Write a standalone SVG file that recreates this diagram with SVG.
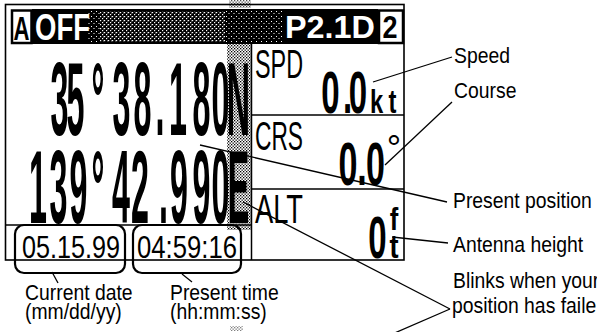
<svg xmlns="http://www.w3.org/2000/svg" width="597" height="332" viewBox="0 0 597 332">
<defs>
<style>
.frame{fill:none;stroke:#000;stroke-width:1.6}
.sep{fill:none;stroke:#000;stroke-width:1.5}
.lbl{font-family:"Liberation Sans",Arial,sans-serif;font-size:22px;fill:#000}
.big{font-family:"Liberation Sans",Arial,sans-serif;font-weight:bold;font-size:104px;fill:#000;text-anchor:middle}
.val{font-family:"Liberation Sans",Arial,sans-serif;font-weight:bold;fill:#000;text-anchor:middle}
.reg{font-family:"Liberation Sans",Arial,sans-serif;fill:#000}
.hdr{font-family:"Liberation Sans",Arial,sans-serif;font-weight:bold}
.lead{fill:none;stroke:#000;stroke-width:1.3}
.call{fill:none;stroke:#000;stroke-width:2.2}
.box{fill:#fff;stroke:#000;stroke-width:2.5}
</style>
<pattern id="stip" width="3" height="3" patternUnits="userSpaceOnUse">
<rect x="0" y="0" width="1.3" height="1.3" fill="#000"/>
<rect x="1.5" y="1.5" width="1.3" height="1.3" fill="#000"/>
</pattern>
<pattern id="dith" width="4" height="4" patternUnits="userSpaceOnUse">
<rect width="4" height="4" fill="#000"/>
<rect x="0" y="0" width="1.2" height="1.2" fill="#fff"/>
<rect x="2" y="2" width="1.2" height="1.2" fill="#fff"/>
<rect x="3" y="0.5" width="0.8" height="0.8" fill="#fff"/>
</pattern>
<pattern id="dith2" width="5" height="5" patternUnits="userSpaceOnUse">
<rect width="5" height="5" fill="#000"/>
<rect x="1" y="1" width="1" height="1" fill="#fff"/>
<rect x="3.5" y="3" width="1" height="1" fill="#fff"/>
</pattern>
</defs>

<g id="display">
<rect class="frame" x="5.5" y="4.5" width="398.5" height="255.5"/>
<rect x="227" y="44" width="24" height="186" fill="url(#stip)"/>
<rect x="229" y="0" width="22" height="8" fill="url(#stip)" opacity="0.7"/>
<rect x="230" y="326" width="13" height="5" fill="url(#stip)" opacity="0.5"/>
<line class="sep" x1="251.5" y1="44" x2="251.5" y2="260"/>
<line class="sep" x1="251.5" y1="115" x2="404" y2="115"/>
<line class="sep" x1="251.5" y1="189" x2="404" y2="189"/>
<line class="sep" x1="5" y1="225" x2="251.5" y2="225"/>
</g>

<g id="header">
<rect x="32" y="9" width="346" height="35" fill="#000"/>
<rect x="88" y="10" width="195" height="33" fill="url(#dith2)"/>
<rect x="100" y="11" width="125" height="31" fill="url(#dith)"/>
<rect class="box" x="12" y="10.5" width="19.5" height="32.5"/>
<text class="hdr" x="13.5" y="40" font-size="34" textLength="16" lengthAdjust="spacingAndGlyphs" fill="#000">A</text>
<text class="hdr" x="35" y="40" font-size="37" textLength="55" lengthAdjust="spacingAndGlyphs" fill="#fff">OFF</text>
<text class="hdr" x="285" y="38" font-size="32" textLength="90" lengthAdjust="spacingAndGlyphs" fill="#fff">P2.1D</text>
<rect class="box" x="379" y="10.5" width="24" height="32.5"/>
<text class="hdr" x="382.5" y="38" font-size="32" textLength="15" lengthAdjust="spacingAndGlyphs" fill="#000">2</text>
</g>

<g id="latitude">
<text class="big" transform="scale(0.31,1)" x="191.9 243.5 316.1 391.9 459.7 516.1 574.2 650 711.3 769.4" y="135">35°38.180N</text>
</g>
<g id="longitude">
<text class="big" transform="scale(0.31,1)" x="122.6 188.7 253.2 316.1 390.3 451.6 527.4 577.4 650 711.3 769.4" y="223">139°42.990E</text>
</g>

<g id="speed">
<text class="reg" x="255" y="78" font-size="40" textLength="48" lengthAdjust="spacingAndGlyphs">SPD</text>
<text class="val" transform="scale(0.55,1)" x="600.9 631.8 650.9" y="113" font-size="60">0.0</text>
<text class="val" transform="scale(0.7,1)" x="537.9 560.7" y="113" font-size="34">kt</text>
</g>

<g id="course">
<text class="reg" x="255" y="150" font-size="40" textLength="48" lengthAdjust="spacingAndGlyphs">CRS</text>
<text class="val" transform="scale(0.55,1)" x="632.7 658.2 682.7" y="185" font-size="62">0.0</text>
<text class="reg" x="394" y="161" font-size="36" text-anchor="middle">°</text>
</g>

<g id="altitude">
<text class="reg" x="255" y="223" font-size="40" textLength="48" lengthAdjust="spacingAndGlyphs">ALT</text>
<text class="val" transform="scale(0.55,1)" x="686.4" y="258" font-size="60">0</text>
<text class="val" transform="scale(0.8,1)" x="492.5" y="230" font-size="32">f</text>
<text class="val" transform="scale(0.8,1)" x="492.5" y="258" font-size="34">t</text>
</g>

<g id="date">
<text class="reg" x="22" y="258" font-size="32" textLength="98" lengthAdjust="spacingAndGlyphs">05.15.99</text>
<rect class="call" x="15" y="225" width="110" height="48" rx="9"/>
</g>
<g id="time">
<text class="reg" x="137" y="258" font-size="32" textLength="100" lengthAdjust="spacingAndGlyphs">04:59:16</text>
<rect class="call" x="133" y="225" width="108" height="48" rx="9"/>
</g>

<g id="connectors">
<path class="lead" d="M373 82 L452 57"/>
<path class="lead" d="M385 165 L452 102"/>
<path class="lead" d="M200 145 L447 202"/>
<path class="lead" d="M392 237 L448 243"/>
<path class="lead" d="M243 202 L450 309"/>
<path class="lead" d="M390 335 L450 309"/>
<path class="lead" d="M52 272 L58 283"/>
<path class="lead" d="M182 274 L192 282"/>
</g>

<g id="label-speed"><text class="lbl" transform="translate(454,63) scale(0.88,1)">Speed</text></g>
<g id="label-course"><text class="lbl" transform="translate(454,98) scale(0.88,1)">Course</text></g>
<g id="label-position"><text class="lbl" transform="translate(453,208) scale(0.88,1)">Present position</text></g>
<g id="label-antenna"><text class="lbl" transform="translate(453,252) scale(0.88,1)">Antenna height</text></g>
<g id="label-blinks">
<text class="lbl" transform="translate(453,288) scale(0.88,1)">Blinks when your</text>
<text class="lbl" transform="translate(452,313) scale(0.88,1)">position has faile</text>
</g>
<g id="label-date">
<text class="lbl" transform="translate(25,300) scale(0.88,1)">Current date</text>
<text class="lbl" transform="translate(25,319) scale(0.88,1)">(mm/dd/yy)</text>
</g>
<g id="label-time">
<text class="lbl" transform="translate(170,300) scale(0.88,1)">Present time</text>
<text class="lbl" transform="translate(170,319) scale(0.88,1)">(hh:mm:ss)</text>
</g>
</svg>
